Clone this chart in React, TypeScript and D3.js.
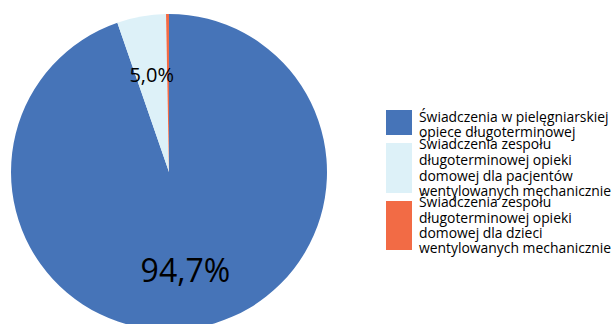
import React from "react";
import * as d3 from "d3";

const categories = [
  ["Świadczenia w pielęgniarskiej", "opiece długoterminowej"],
  ["Świadczenia zespołu", "długoterminowej opieki", "domowej dla pacjentów", "wentylowanych mechanicznie"],
  ["Świadczenia zespołu", "długoterminowej opieki", "domowej dla dzieci", "wentylowanych mechanicznie"],
];
const values = [94.7, 5.0, 0.3];
const labels = ["94,7%", "5,0%", ""];
const colors = ["#4674b8", "#ddf1f8", "#f26b45"];

const W = 614, H = 324;
const cx = 169, cy = 172, R = 158;

export default function App() {
  const pie = d3.pie<number>().sort(null).value((d) => d).startAngle(0).endAngle(2 * Math.PI);
  const arcs = pie(values);
  const arc = d3.arc<d3.PieArcDatum<number>>().innerRadius(0).outerRadius(R);
  const labelArc = d3.arc<d3.PieArcDatum<number>>().innerRadius(99).outerRadius(99);
  const labelSizes = [32, 20, 20];
  const legendBoxes = [
    { y0: 110, y1: 135, baselines: [122, 137] },
    { y0: 143, y1: 193, baselines: [149, 165, 181, 196] },
    { y0: 201, y1: 250, baselines: [207, 223, 238, 253] },
  ];
  return (
    <svg width={W} height={H} style={{ position: "absolute", left: 0, top: 0, background: "#fff" }}
      fontFamily="'Open Sans', sans-serif">
      <g transform={`translate(${cx},${cy})`}>
        {arcs.map((a, i) => (
          <path key={i} d={arc(a) || ""} fill={colors[i]} />
        ))}
        {arcs.map((a, i) => {
          if (!labels[i]) return null;
          const [x, y] = labelArc.centroid(a);
          return (
            <text key={i} x={x} y={y} textAnchor="middle" dominantBaseline="central"
              fontSize={labelSizes[i]} fill="#000">{labels[i]}</text>
          );
        })}
      </g>
      {categories.map((lines, i) => (
        <g key={i}>
          <rect x={386} y={legendBoxes[i].y0} width={26} height={legendBoxes[i].y1 - legendBoxes[i].y0} fill={colors[i]} />
          {lines.map((l, j) => (
            <text key={j} x={419} y={legendBoxes[i].baselines[j]} fontSize={13.9} fill="#000">{l}</text>
          ))}
        </g>
      ))}
    </svg>
  );
}
